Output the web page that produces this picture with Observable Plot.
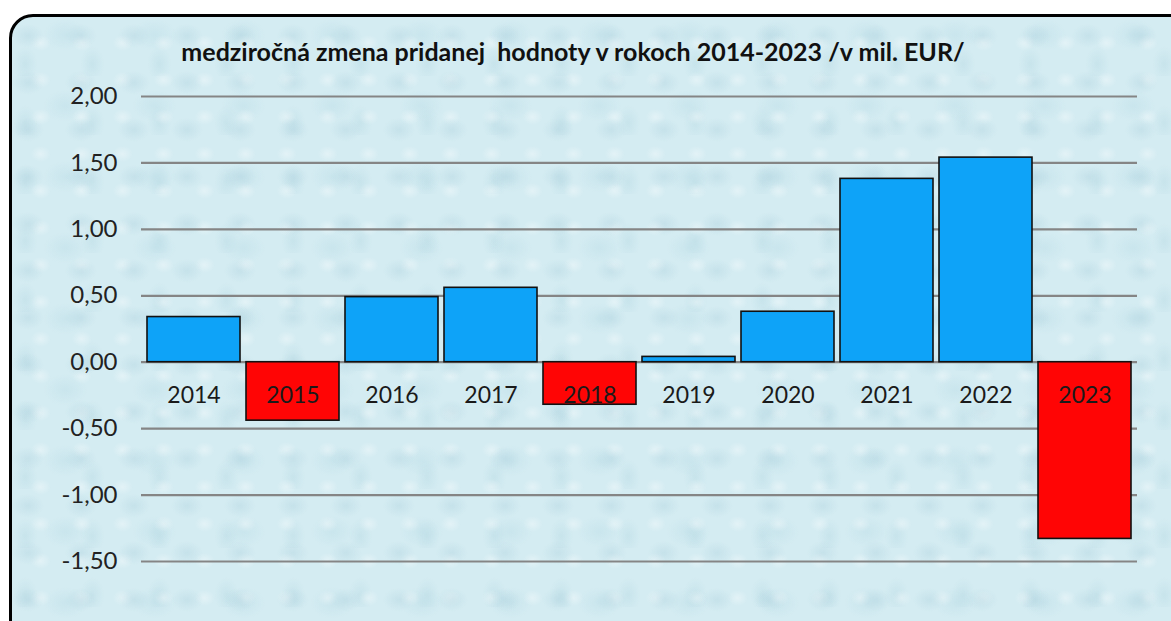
<!DOCTYPE html>
<html>
<head>
<meta charset="utf-8">
<script src="https://cdn.jsdelivr.net/npm/d3@7"></script>
<script src="https://cdn.jsdelivr.net/npm/@observablehq/plot@0.6"></script>
<style>
  html, body { margin: 0; padding: 0; background: #ffffff; width: 1171px; height: 621px; overflow: hidden; }
  #frame {
    position: absolute; left: 9px; top: 14px; width: 1200px; height: 640px;
    border: 3px solid #000; border-radius: 24px; box-sizing: border-box;
    background-color: #d4ecf2;
    background-image:
      radial-gradient(ellipse 16px 12px at 30% 40%, rgba(160,200,214,0.28), rgba(160,200,214,0) 100%),
      radial-gradient(ellipse 10px 8px at 70% 70%, rgba(255,255,255,0.35), rgba(255,255,255,0) 100%),
      radial-gradient(ellipse 22px 16px at 60% 25%, rgba(170,210,222,0.25), rgba(170,210,222,0) 100%),
      radial-gradient(ellipse 12px 18px at 20% 80%, rgba(150,196,210,0.2), rgba(150,196,210,0) 100%);
    background-size: 53px 47px, 41px 37px, 89px 71px, 67px 59px;
  }
  #title {
    position: absolute; left: 0; width: 1146px; top: 36px; text-align: center;
    font-family: Lato, "Open Sans", sans-serif; font-weight: bold; font-size: 25px; color: #111;
    white-space: pre;
  }
  #chart { position: absolute; left: 0; top: 0; }
</style>
</head>
<body>
<div id="frame"></div>
<div id="title">medziročná zmena pridanej  hodnoty v rokoch 2014-2023 /v mil. EUR/</div>
<div id="chart"></div>
<script>
const years = ["2014","2015","2016","2017","2018","2019","2020","2021","2022","2023"];
const values = [0.34, -0.44, 0.49, 0.56, -0.32, 0.04, 0.38, 1.38, 1.54, -1.33];
const yTicks = [-1.5, -1.0, -0.5, 0, 0.5, 1.0, 1.5, 2.0];

const data = years.map((y, i) => ({year: y, value: values[i]}));
const fmt = d => d.toFixed(2).replace(".", ",");

const chart = Plot.plot({
  width: 1171,
  height: 621,
  marginLeft: 141,
  marginRight: 34,
  marginTop: 96,
  marginBottom: 60,
  style: {background: "transparent", fontFamily: "Lato, 'Open Sans', sans-serif", fontSize: "24px", color: "#222"},
  x: {domain: years, paddingInner: 0.056, paddingOuter: 0.03, axis: null},
  y: {domain: [-1.5, 2.0], ticks: yTicks, tickFormat: fmt, tickSize: 0, tickPadding: 24, label: null},
  marks: [
    Plot.ruleY(yTicks, {stroke: "#858585", strokeWidth: 2.2}),
    Plot.barY(data, {x: "year", y: "value", fill: d => d.value < 0 ? "#ff0505" : "#0ea3f8", stroke: "#111", strokeWidth: 1.6}),
    Plot.text(data, {x: "year", y: () => 0, text: "year", dy: 33, fill: "#1a1a1a", fontSize: 23})
  ]
});
document.getElementById("chart").appendChild(chart);
</script>
</body>
</html>
